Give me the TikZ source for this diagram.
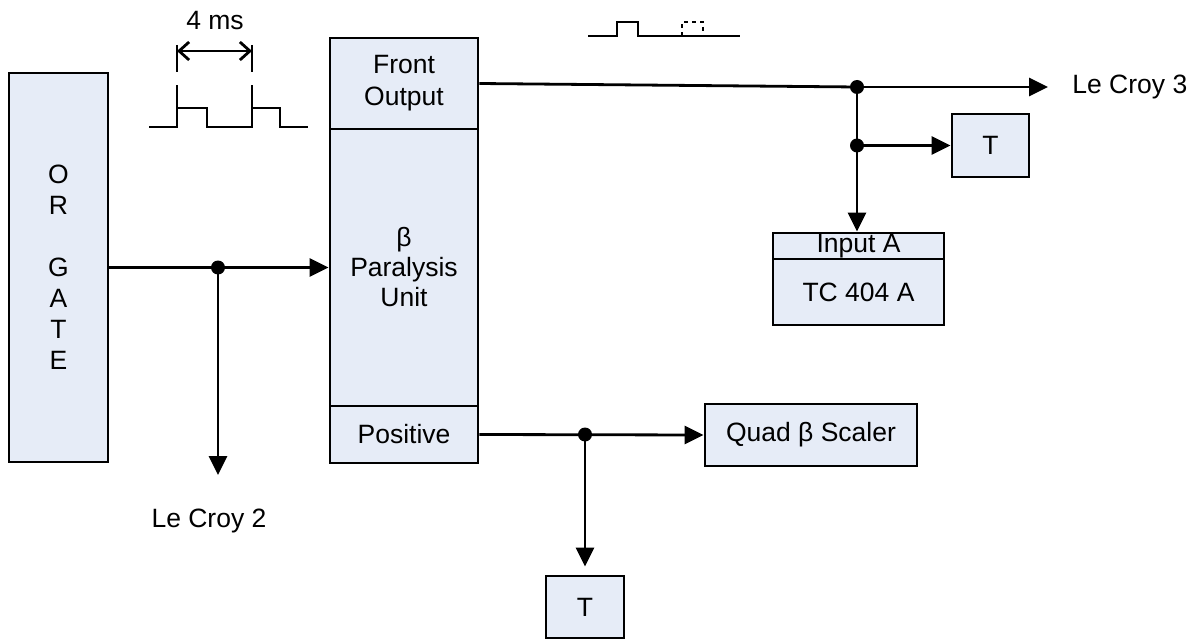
\documentclass[tikz,border=0pt]{standalone}
\usepackage{fontspec}
\setmainfont{Liberation Sans}
\usepackage{xcolor}
\usetikzlibrary{positioning, arrows.meta}
\definecolor{boxblue}{RGB}{230,236,247}

\begin{document}
\begin{tikzpicture}[x=1pt, y=-1pt, ->, >={Triangle[length=19pt,width=18pt]}, line width=2.8pt,
      font=\fontsize{26.5}{31}\selectfont,
      box/.style={draw, fill=boxblue, inner sep=0pt, align=center},
      dot/.style={circle, fill, inner sep=0pt, minimum size=14pt},
      wave/.style={-, line join=miter}]
      \useasboundingbox (0,0) rectangle (1199,639);

      % boxes
      \node[box, minimum width=99pt, minimum height=389pt] (gate) at (58.5,267.5) {O\\R\\[31pt]G\\A\\T\\E};
      \node[box, minimum width=148pt, minimum height=91pt, font=\fontsize{26.5}{32}\selectfont] (fo) at (404,83.5) {Front\\Output};
      \node[box, minimum width=148pt, minimum height=277pt, font=\fontsize{26.5}{30}\selectfont] (pu) at (404,267.5) {β\\Paralysis\\Unit};
      \node[box, minimum width=148pt, minimum height=57pt] (pos) at (404,434.5) {Positive};
      \node[box, minimum width=212pt, minimum height=62pt] (quad) at (811,435) {Quad β Scaler};
      \node[box, minimum width=78pt, minimum height=62pt] (tb) at (585,607) {T};
      \node[box, minimum width=77pt, minimum height=63pt] (tr) at (990.5,145.5) {T};
      \node[box, minimum width=171pt, minimum height=26pt] (inp) at (858.5,246) {Input A};
      \node[box, minimum width=171pt, minimum height=66pt] (tc) at (858.5,292) {TC 404 A};
      \node (lc2) at (209,521) {Le Croy 2};
      \node[anchor=west, inner sep=0pt] (lc3) at (1071,87) {Le Croy 3};

      \coordinate (j0) at (218,267.5);
      \coordinate (c2) at (218,475);
      \coordinate (j1) at (857,87);
      \coordinate (j2) at (857,145.5);
      \coordinate (c3) at (1048,87);
      \coordinate (j3) at (585,434.5);

      \draw (gate.east) -- (pu.west);
      \draw (j0) -- (c2);
      \draw[-] (fo.east) -- (j1);
      \draw (j1) -- (c3);
      \draw (j1) -- (j1 |- inp.north);
      \draw (j2) -- (tr.west);
      \draw (pos.east) -- (quad.west);
      \draw[shorten >=8pt] (j3) -- (tb.north);
      \foreach \j in {j0,j1,j2,j3}
        \node[dot] at (\j) {};

      % pulses
      \draw[wave] (149,127) -- (177,127) -- (177,85) (177,108) -- (207,108) -- (207,127) -- (252,127) -- (252,85)
            (252,108) -- (280,108) -- (280,127) -- (308,127);
      \draw[wave] (177,45) -- (177,72) (252,45) -- (252,72);
      \draw[<->, >={Straight Barb[length=10pt,width=18pt]}] (177,51) -- (252,51);
      \node (dim) at (215,21) {4 ms};
      \draw[wave] (588,36) -- (617,36) -- (617,22) -- (638,22) -- (638,36) -- (740,36);
      \draw[wave, dash pattern=on 4pt off 4pt] (682,36) -- (682,22) -- (703,22) -- (703,36);
\end{tikzpicture}
\end{document}
